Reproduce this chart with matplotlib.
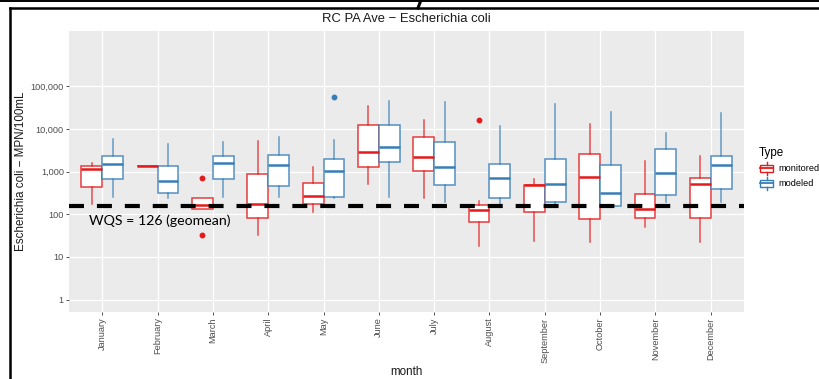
import matplotlib
matplotlib.use('Agg')
import matplotlib.pyplot as plt
from matplotlib.lines import Line2D
from matplotlib.patches import Rectangle
from matplotlib.legend_handler import HandlerBase
from matplotlib.colors import to_rgba

plt.rcParams['font.family'] = ['Liberation Sans', 'DejaVu Sans']

months = ['January', 'February', 'March', 'April', 'May', 'June', 'July',
          'August', 'September', 'October', 'November', 'December']
types = ['monitored', 'modeled']

# box stats (MPN/100mL)
mon_lo = [173, 1320, 129, 33, 112, 510, 235, 18, 24, 22, 50, 22]
mon_q1 = [440, 1320, 129, 81, 173, 1290, 1040, 65, 112, 78, 81, 81]
mon_med = [1130, 1320, 160, 170, 270, 2870, 2220, 125, 480, 755, 132, 500]
mon_q3 = [1350, 1320, 238, 890, 545, 12000, 6600, 166, 490, 2560, 290, 705]
mon_hi = [1600, 1320, 238, 5300, 1250, 34500, 16000, 205, 680, 13000, 1740, 2300]
mon_out = [[], [], [705, 32], [], [], [], [], [16200], [], [], [], []]

mod_lo = [247, 235, 257, 257, 235, 257, 195, 150, 155, 150, 192, 195]
mod_q1 = [670, 318, 650, 450, 257, 1700, 475, 243, 192, 158, 280, 390]
mod_med = [1480, 605, 1600, 1420, 1040, 3830, 1290, 705, 500, 308, 910, 1440]
mod_q3 = [2350, 1340, 2300, 2460, 1960, 12500, 4900, 1520, 1940, 1440, 3370, 2350]
mod_hi = [5900, 4400, 4900, 6600, 5500, 46000, 41500, 11700, 38000, 25000, 7900, 24000]
mod_out = [[], [], [], [], [57000], [], [], [], [], [], [], []]

y_ticks = [1, 10, 100, 1000, 10000, 100000]
y_ticklabels = ['1', '10', '100', '1,000', '10,000', '100,000']
wqs_line = 155
wqs_label = 'WQS = 126 (geomean)'

colors = {'monitored': '#E41A1C', 'modeled': '#377EB8'}


def make_stats(lo, q1, med, q3, hi, out):
    return [dict(whislo=lo[i], q1=q1[i], med=med[i], q3=q3[i], whishi=hi[i],
                 fliers=out[i]) for i in range(len(lo))]


W, H = 819, 379
fig = plt.figure(figsize=(W / 100, H / 100), dpi=100)
ax = fig.add_axes([69 / W, (H - 312.3) / H, (744 - 69) / W, (312.3 - 30.7) / H])
ax.set_facecolor('#EBEBEB')
for s in ax.spines.values():
    s.set_visible(False)

series = {
    'monitored': make_stats(mon_lo, mon_q1, mon_med, mon_q3, mon_hi, mon_out),
    'modeled': make_stats(mod_lo, mod_q1, mod_med, mod_q3, mod_hi, mod_out),
}
pos = list(range(1, len(months) + 1))
for k, t in enumerate(types):
    c = colors[t]
    off = -0.1875 if k == 0 else 0.1875
    ax.bxp(series[t], positions=[p + off for p in pos], widths=0.375,
           showcaps=False, patch_artist=True, manage_ticks=False,
           boxprops=dict(facecolor='white', edgecolor=to_rgba(c, 0.85), lw=1.1),
           whiskerprops=dict(color=c, lw=1.1, alpha=0.75),
           medianprops=dict(color=c, lw=1.8),
           flierprops=dict(marker='o', markerfacecolor=c, markeredgecolor=c,
                           markersize=3.2))

ax.set_yscale('log')
ax.set_ylim(10 ** -0.3, 10 ** 6.3)
ax.set_xlim(0.4, 12.6)
ax.set_yticks(y_ticks)
ax.set_yticklabels(y_ticklabels)
ax.yaxis.set_minor_locator(matplotlib.ticker.NullLocator())
ax.set_xticks(pos)
ax.set_xticklabels(months, rotation=90, ha='center', va='top')
ax.tick_params(axis='both', colors='#333333', labelcolor='#4D4D4D', labelsize=6.6,
               length=2.2, width=0.6, pad=1.5)
ax.grid(True, color='white', lw=0.9)
ax.set_axisbelow(True)

ax.axhline(wqs_line, color='black', lw=3, ls=(0, (3.6, 3.1)),
           dash_capstyle='butt', zorder=5)
ax.text(0.76, 72, wqs_label, family=['Lato', 'DejaVu Sans'], fontsize=10.2,
        ha='left', va='center', color='black', zorder=6)

fig.text(406.5 / W, 1 - 19.5 / H, 'RC PA Ave \u2212 Escherichia coli', fontsize=9.4,
         ha='center', va='center', color='#1A1A1A')
fig.text(21 / W, 1 - 171.5 / H, 'Escherichia coli \u2212 MPN/100mL', fontsize=8.4,
         rotation=90, ha='center', va='center', color='#1A1A1A')
fig.text(406.5 / W, 1 - 372 / H, 'month', fontsize=8.4, ha='center', va='center',
         color='#1A1A1A')


class BoxKey(HandlerBase):
    def create_artists(self, legend, orig, xd, yd, w, h, fontsize, trans):
        c = orig.get_edgecolor()
        x0, y0 = -xd, -yd
        b = Rectangle((x0 + 0.1 * w, y0 + 0.22 * h), 0.8 * w, 0.56 * h,
                      fc='white', ec=c, lw=1.0, transform=trans)
        m = Line2D([x0 + 0.1 * w, x0 + 0.9 * w], [y0 + 0.5 * h] * 2, color=c,
                   lw=1.3, transform=trans)
        wt = Line2D([x0 + 0.5 * w] * 2, [y0 + 0.78 * h, y0 + h], color=c, lw=1.0,
                    transform=trans)
        wb = Line2D([x0 + 0.5 * w] * 2, [y0, y0 + 0.22 * h], color=c, lw=1.0,
                    transform=trans)
        return [b, m, wt, wb]


handles = [Rectangle((0, 0), 1, 1, fc='white', ec=colors[t]) for t in types]
leg = fig.legend(handles, types, loc='upper left',
                 bbox_to_anchor=(752 / W, 1 - 141 / H), frameon=False,
                 title='Type', title_fontsize=8.4, fontsize=6.6, alignment='left',
                 handler_map={Rectangle: BoxKey()}, handlelength=1.8,
                 handleheight=1.7, handletextpad=0.4, labelspacing=0.3,
                 borderpad=0.2)

# screenshot frame
fig.add_artist(Line2D([0, 1], [1 - 1 / H] * 2, transform=fig.transFigure,
                      color='black', lw=1.4))
fig.add_artist(Line2D([9.5 / W, 1], [1 - 8 / H] * 2, transform=fig.transFigure,
                      color='black', lw=1.8))
fig.add_artist(Line2D([9.5 / W] * 2, [0, 1 - 8 / H], transform=fig.transFigure,
                      color='black', lw=1.8))
fig.add_artist(Line2D([421 / W, 418 / W], [1, 1 - 8 / H], transform=fig.transFigure,
                      color='black', lw=2.2))

fig.savefig('out.png', dpi=100)
